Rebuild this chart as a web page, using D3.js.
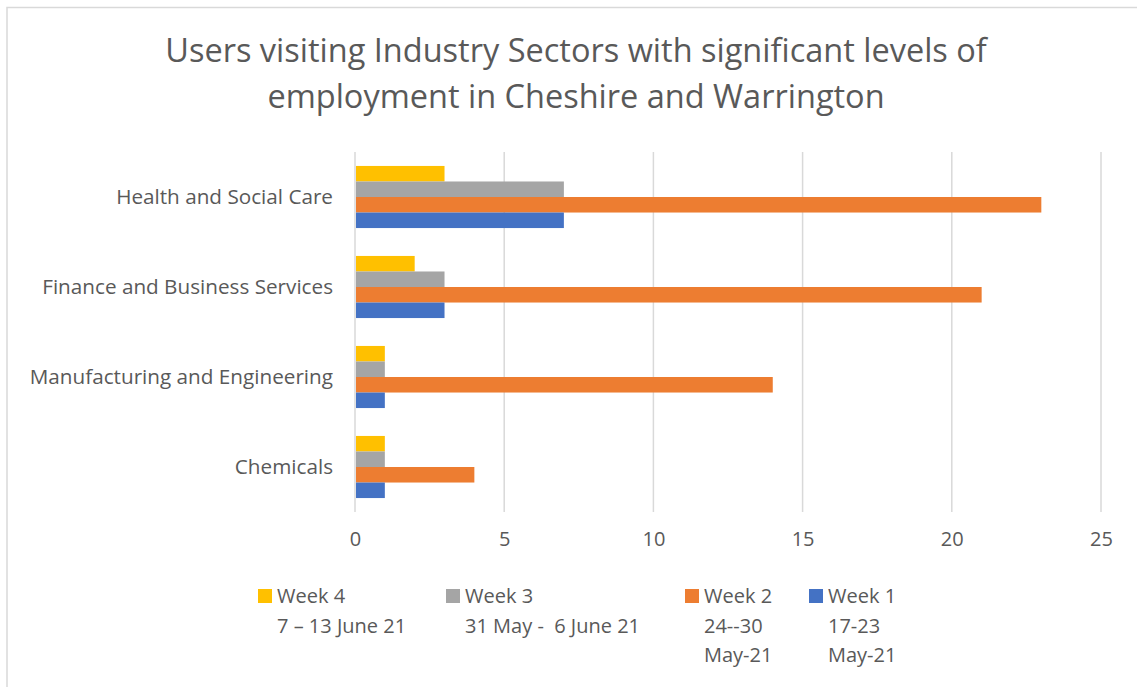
<!DOCTYPE html>
<html>
<head>
<meta charset="utf-8">
<script src="https://cdn.jsdelivr.net/npm/d3@7"></script>
<style>
  body { margin: 0; background: #fff; }
  text { font-family: "Open Sans", sans-serif; fill: #595959; white-space: pre; }
</style>
</head>
<body>
<div id="chart"></div>
<script>
const sectors = ["Health and Social Care", "Finance and Business Services", "Manufacturing and Engineering", "Chemicals"];
const weeks = ["Week 4", "Week 3", "Week 2", "Week 1"];
const weekDates = [["7 \u2013 13 June 21"], ["31 May -  6 June 21"], ["24--30", "May-21"], ["17-23", "May-21"]];
const colors = ["#ffc000", "#a5a5a5", "#ed7d31", "#4472c4"];
const week4 = [3, 2, 1, 1];
const week3 = [7, 3, 1, 1];
const week2 = [23, 21, 14, 4];
const week1 = [7, 3, 1, 1];
const xTicks = [0, 5, 10, 15, 20, 25];

const series = [week4, week3, week2, week1];

const width = 1137, height = 687;
const plotLeft = 355, plotRight = 1101, plotTop = 152, plotBottom = 512;
const fontFamily = "'Open Sans', sans-serif";

const svg = d3.select("#chart")
  .append("svg")
  .attr("width", width)
  .attr("height", height);

// chart border
svg.append("path")
  .attr("d", `M7,${height} V7.5 H${width}`)
  .attr("fill", "none")
  .attr("stroke", "#d9d9d9")
  .attr("stroke-width", 1.5);

const x = d3.scaleLinear().domain([0, 25]).range([plotLeft, plotRight]);
const y = d3.scaleBand().domain(sectors).range([plotTop, plotBottom]).paddingInner(0.31).paddingOuter(0.155);
const yInner = d3.scaleBand().domain(weeks).range([0, y.bandwidth()]);

// gridlines
svg.append("g")
  .selectAll("line")
  .data(xTicks)
  .join("line")
  .attr("x1", d => x(d)).attr("x2", d => x(d))
  .attr("y1", plotTop).attr("y2", plotBottom)
  .attr("stroke", "#d9d9d9")
  .attr("stroke-width", 1.5);

// bars
svg.append("g")
  .selectAll("g")
  .data(series)
  .join("g")
  .attr("fill", (d, i) => colors[i])
  .selectAll("rect")
  .data((d, i) => d.map((v, j) => ({ v, sector: sectors[j], week: weeks[i] })))
  .join("rect")
  .attr("x", x(0) + 1)
  .attr("y", d => y(d.sector) + yInner(d.week))
  .attr("width", d => x(d.v) - x(0) - 1)
  .attr("height", yInner.bandwidth());

// x axis labels
const xAxis = svg.append("g")
  .attr("transform", `translate(0,${plotBottom})`)
  .call(d3.axisBottom(x).tickValues(xTicks).tickSize(0).tickPadding(20));
xAxis.select(".domain").remove();
xAxis.selectAll("text").attr("font-size", 20).attr("fill", "#595959")
  .style("font-family", fontFamily);

// y axis labels
const yAxis = svg.append("g")
  .attr("transform", `translate(${plotLeft},0)`)
  .call(d3.axisLeft(y).tickSize(0).tickPadding(22));
yAxis.select(".domain").remove();
yAxis.selectAll("text").attr("font-size", 20.7).attr("fill", "#595959")
  .style("font-family", fontFamily);

// title
svg.append("text")
  .attr("text-anchor", "middle")
  .attr("font-size", 32.5)
  .selectAll("tspan")
  .data(["Users visiting Industry Sectors with significant levels of", "employment in Cheshire and Warrington"])
  .join("tspan")
  .attr("x", 576)
  .attr("y", (d, i) => 62 + i * 46)
  .text(d => d);

// legend
const legendX = [258, 446, 685, 809];
const legend = svg.append("g")
  .selectAll("g")
  .data(weeks)
  .join("g")
  .attr("transform", (d, i) => `translate(${legendX[i]},589)`);
legend.append("rect")
  .attr("width", 14).attr("height", 14)
  .attr("fill", (d, i) => colors[i]);
legend.append("text")
  .attr("font-size", 20)
  .selectAll("tspan")
  .data((d, i) => [d].concat(weekDates[i]))
  .join("tspan")
  .attr("x", 19)
  .attr("y", (d, i) => 14 + i * 29.5)
  .text(d => d);
</script>
</body>
</html>
